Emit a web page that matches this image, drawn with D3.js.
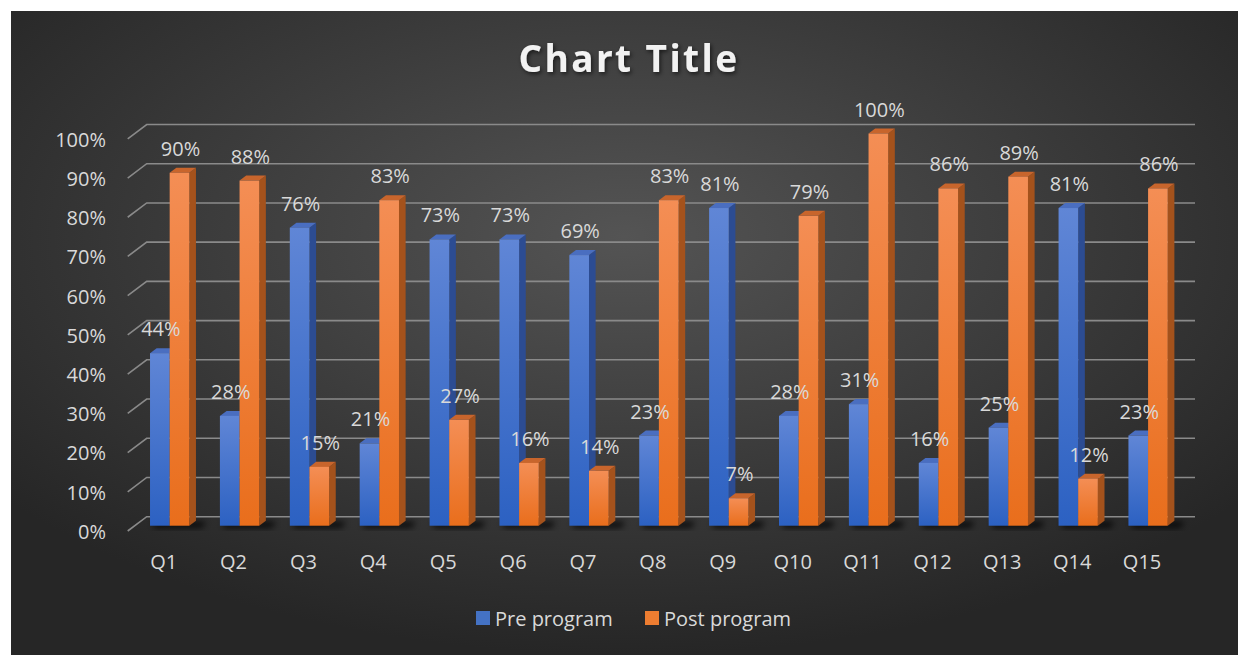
<!DOCTYPE html>
<html>
<head>
<meta charset="utf-8">
<script src="https://cdn.jsdelivr.net/npm/d3@7"></script>
<style>
  body { margin: 0; background: #fff; }
  text { font-family: "Open Sans", sans-serif; }
</style>
</head>
<body>
<script>
var categories = ['Q1', 'Q2', 'Q3', 'Q4', 'Q5', 'Q6', 'Q7', 'Q8', 'Q9', 'Q10', 'Q11', 'Q12', 'Q13', 'Q14', 'Q15'];
var seriesNames = ['Pre program', 'Post program'];
var preValues = [0.44, 0.28, 0.76, 0.21, 0.73, 0.73, 0.69, 0.23, 0.81, 0.28, 0.31, 0.16, 0.25, 0.81, 0.23];
var postValues = [0.90, 0.88, 0.15, 0.83, 0.27, 0.16, 0.14, 0.83, 0.07, 0.79, 1.00, 0.86, 0.89, 0.12, 0.86];
var yTicks = [0, 0.1, 0.2, 0.3, 0.4, 0.5, 0.6, 0.7, 0.8, 0.9, 1.0];

var width = 1238, height = 655;

// 3d depth of the plot floor (front -> back)
var depthX = 19, depthY = -14.3;
var barT0 = 0.37, barT1 = 0.72; // where bars sit in the depth

var x = d3.scaleBand()
    .domain(categories)
    .range([127.7, 1176]);

var groupW = 39.3;
var xs = d3.scaleBand()
    .domain(seriesNames)
    .range([0, groupW]);

var y = d3.scaleLinear()
    .domain([0, 1])
    .range([531, 138.8]);

var colors = {
  'Pre program': { top: '#4a6ec0', side: '#2c4c92', g0: '#6086d6', g1: '#2c61c2', legend: '#4472c4' },
  'Post program': { top: '#c8652c', side: '#a4521c', g0: '#f48e55', g1: '#e96e1c', legend: '#ed7d31' }
};

var svg = d3.select('body').append('svg')
    .attr('width', width)
    .attr('height', height);

var defs = svg.append('defs');
var bg = defs.append('radialGradient').attr('id', 'bg')
    .attr('cx', '50%').attr('cy', '35%').attr('r', '65%');
bg.append('stop').attr('offset', '0%').attr('stop-color', '#545454');
bg.append('stop').attr('offset', '100%').attr('stop-color', '#262626');

seriesNames.forEach(function(s, i) {
  var g = defs.append('linearGradient').attr('id', 'grad' + i)
      .attr('x1', 0).attr('y1', 0).attr('x2', 0).attr('y2', 1);
  g.append('stop').attr('offset', '0%').attr('stop-color', colors[s].g0);
  g.append('stop').attr('offset', '100%').attr('stop-color', colors[s].g1);
});

var blur = defs.append('filter').attr('id', 'blur')
    .attr('x', '-50%').attr('y', '-50%').attr('width', '200%').attr('height', '200%');
blur.append('feGaussianBlur').attr('stdDeviation', 3);

var tshadow = defs.append('filter').attr('id', 'tshadow')
    .attr('x', '-10%').attr('y', '-30%').attr('width', '120%').attr('height', '160%');
tshadow.append('feDropShadow').attr('dx', 1.5).attr('dy', 2).attr('stdDeviation', 2)
    .attr('flood-color', '#000').attr('flood-opacity', 0.6);

svg.append('rect')
    .attr('x', 11).attr('y', 11)
    .attr('width', width - 11).attr('height', height - 11)
    .attr('fill', 'url(#bg)');

// title
svg.append('text')
    .attr('x', 629).attr('y', 72)
    .attr('text-anchor', 'middle')
    .attr('font-size', 37)
    .attr('font-weight', 700)
    .attr('letter-spacing', 2.4)
    .attr('fill', '#f2f2f2')
    .attr('filter', 'url(#tshadow)')
    .text('Chart Title');

var x0 = x.range()[0], x1 = x.range()[1];

// gridlines: short slanted piece on the side wall + back wall line
var grid = svg.append('g').attr('class', 'grid');
yTicks.forEach(function(v) {
  grid.append('path')
      .attr('d', 'M' + x0 + ',' + y(v) + 'L' + (x0 + depthX) + ',' + (y(v) + depthY) +
                 'L' + (x1 + depthX) + ',' + (y(v) + depthY))
      .attr('fill', 'none')
      .attr('stroke', '#8a8a8a')
      .attr('stroke-width', 1.6);
});

// y axis labels
var yAxis = d3.axisLeft(y)
    .tickValues(yTicks)
    .tickFormat(d3.format('.0%'))
    .tickSize(0)
    .tickPadding(0);
var yg = svg.append('g')
    .attr('transform', 'translate(106,1)')
    .call(yAxis);
yg.select('.domain').remove();
yg.selectAll('text').attr('font-size', 20).attr('fill', '#d9d9d9')
    .attr('font-family', '"Open Sans", sans-serif');

// x axis labels
var xAxis = d3.axisBottom(x).tickSize(0).tickPadding(24);
var xg = svg.append('g')
    .attr('transform', 'translate(1,' + y(0) + ')')
    .call(xAxis);
xg.select('.domain').remove();
xg.selectAll('text').attr('font-size', 20).attr('fill', '#d9d9d9')
    .attr('font-family', '"Open Sans", sans-serif');

var rows = categories.map(function(c, i) {
  return { cat: c, vals: [
    { s: seriesNames[0], v: preValues[i], i: 0 },
    { s: seriesNames[1], v: postValues[i], i: 1 }
  ] };
});

var bdx = (barT1 - barT0) * depthX, bdy = (barT1 - barT0) * depthY;
function frontX(d, cat) {
  return x(cat) + (x.bandwidth() - groupW) / 2 + xs(d.s) + barT0 * depthX;
}
function frontY(v) { return y(v) + barT0 * depthY; }

// floor shadows
svg.append('g').selectAll('path')
  .data(rows)
  .join('path')
    .attr('d', function(r) {
      var xa = frontX(r.vals[0], r.cat) + 4;
      var xb = frontX(r.vals[1], r.cat) + xs.bandwidth() + bdx + 10;
      var yb = frontY(0);
      return 'M' + xa + ',' + (yb - 4) + 'L' + xb + ',' + (yb - 4) + 'L' + (xb - 4) + ',' + (yb + 2) + 'L' + xa + ',' + (yb + 2) + 'Z';
    })
    .attr('fill', '#000')
    .attr('opacity', 0.8)
    .attr('filter', 'url(#blur)');

var groups = svg.append('g').selectAll('g')
  .data(rows)
  .join('g');

var bars = groups.selectAll('g')
  .data(function(r) { return r.vals.map(function(d) { d.cat = r.cat; return d; }); })
  .join('g');

var bw = xs.bandwidth();

// side face
bars.append('path')
    .attr('d', function(d) {
      var xr = frontX(d, d.cat) + bw, yt = frontY(d.v), yb = frontY(0);
      return 'M' + xr + ',' + yt + 'L' + (xr + bdx) + ',' + (yt + bdy) +
              'L' + (xr + bdx) + ',' + (yb + bdy) + 'L' + xr + ',' + yb + 'Z';
    })
    .attr('fill', function(d) { return colors[d.s].side; });

// top face
bars.append('path')
    .attr('d', function(d) {
      var xl = frontX(d, d.cat), yt = frontY(d.v);
      return 'M' + xl + ',' + yt + 'L' + (xl + bdx) + ',' + (yt + bdy) +
             'L' + (xl + bw + bdx) + ',' + (yt + bdy) + 'L' + (xl + bw) + ',' + yt + 'Z';
    })
    .attr('fill', function(d) { return colors[d.s].top; });

// front face
bars.append('rect')
    .attr('x', function(d) { return frontX(d, d.cat); })
    .attr('y', function(d) { return frontY(d.v); })
    .attr('width', bw)
    .attr('height', function(d) { return frontY(0) - frontY(d.v); })
    .attr('fill', function(d) { return 'url(#grad' + d.i + ')'; });

// data labels
var labels = svg.append('g');
rows.forEach(function(r) {
  r.vals.forEach(function(d) {
    labels.append('text')
        .attr('x', frontX(d, r.cat) + bw / 2 + 1)
        .attr('y', frontY(d.v) - 17)
        .attr('text-anchor', 'middle')
        .attr('font-size', 20)
        .attr('fill', '#d9d9d9')
        .text(d3.format('.0%')(d.v));
  });
});

// legend
var legend = svg.append('g').attr('transform', 'translate(476,611)');
var legX = [0, 169];
seriesNames.forEach(function(s, i) {
  var g = legend.append('g').attr('transform', 'translate(' + legX[i] + ',0)');
  g.append('rect').attr('width', 14).attr('height', 14).attr('fill', colors[s].legend);
  g.append('text').attr('x', 19).attr('y', 14.5)
      .attr('font-size', 20).attr('fill', '#d9d9d9')
      .text(s);
});
</script>
</body>
</html>
